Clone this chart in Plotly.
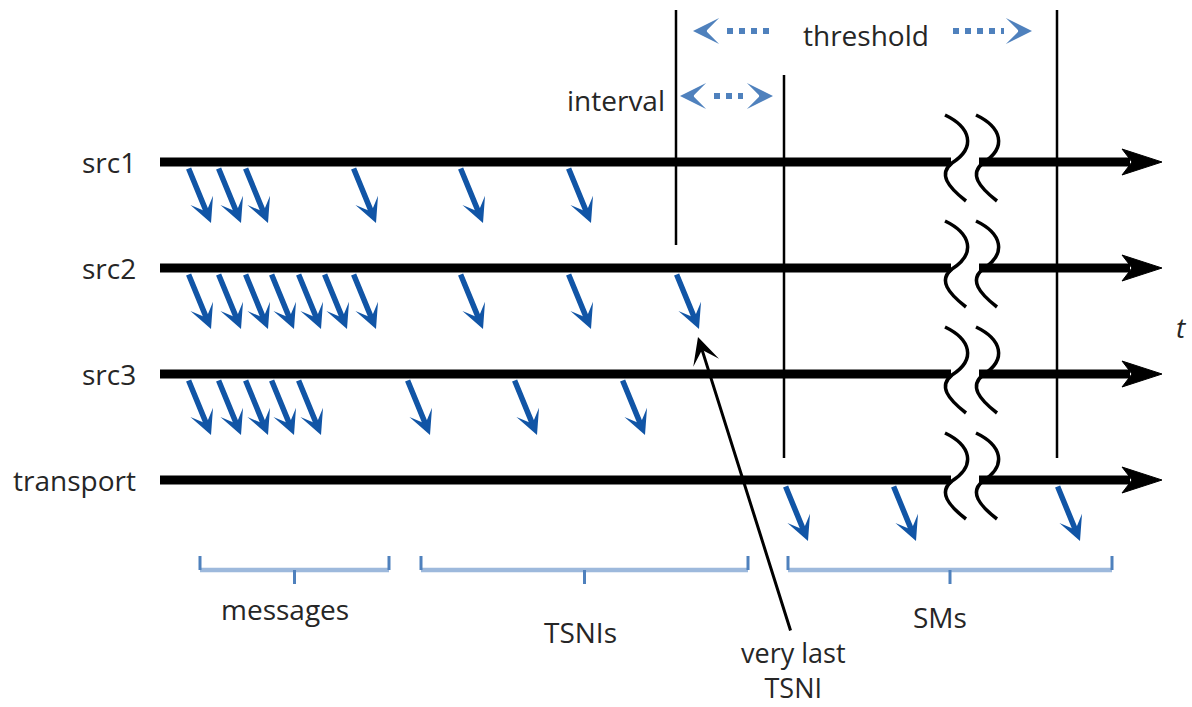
import plotly.graph_objects as go

# ---------------- data ----------------
lanes = ["src1", "src2", "src3", "transport"]
src1_times = [188, 218, 245, 353, 460, 568]
src2_times = [188, 218, 245, 271, 298, 324, 353, 460, 568, 676]
src3_times = [188, 218, 245, 271, 298, 407, 514, 622]
transport_times = [785, 893, 1057]
group_labels = ["messages", "TSNIs", "SMs"]
group_start = [200, 421, 788]
group_end = [389, 748, 1112]
threshold_bounds = [676, 1057]
interval_bounds = [676, 784]
last_tsni_time = 676

# ---------------- layout constants ----------------
W, H = 1192, 707
lane_y = [162, 268, 374, 480]
t_start, t_end = 160, 1162
break_x = 945
BLUE = "#1155A6"
MID = "#4F81BD"
LIGHT = "#9DB9DC"
TXT = "#262626"
FONT = "Open Sans"
FS = 28

fig = go.Figure()
shapes = []
annotations = []

def arrow(x, y, ax, ay, color, width, size, head=3):
    annotations.append(dict(x=x, y=y, ax=ax, ay=ay, xref="x", yref="y", axref="x", ayref="y",
                            text="", showarrow=True, arrowhead=head, arrowwidth=width,
                            arrowsize=size, arrowcolor=color, standoff=0))

def text(x, y, s, size=FS, xanchor="center", italic=False):
    annotations.append(dict(x=x, y=y, xref="x", yref="y", text=("<i>%s</i>" % s) if italic else s,
                            showarrow=False, xanchor=xanchor, yanchor="middle",
                            font=dict(family=FONT, size=size, color=TXT)))

# timelines
for name, ly in zip(lanes, lane_y):
    shapes.append(dict(type="line", x0=t_start, x1=break_x + 6, y0=ly, y1=ly, xref="x", yref="y",
                       line=dict(color="black", width=9)))
    shapes.append(dict(type="line", x0=break_x + 34, x1=t_end - 32, y0=ly, y1=ly, xref="x", yref="y",
                       line=dict(color="black", width=9)))
    hx = t_end
    shapes.append(dict(type="path", xref="x", yref="y", fillcolor="black", line=dict(color="black", width=1),
                       path=f"M {hx-40},{ly-13} L {hx},{ly} L {hx-40},{ly+13} L {hx-30},{ly} Z"))
    for off in (0, 31):
        bx = break_x + off
        shapes.append(dict(type="path", xref="x", yref="y", line=dict(color="black", width=3.5),
                           path=f"M {bx},{ly-47} C {bx+25},{ly-35} {bx+32},{ly-15} {bx+7},{ly+1} "
                                f"C {bx-7},{ly+12} {bx+3},{ly+25} {bx+21},{ly+39}"))
    text(138, ly, name, xanchor="right")

# message arrows
for times, ly in zip([src1_times, src2_times, src3_times, transport_times], lane_y):
    for t in times:
        arrow(t + 23, ly + 61, t, ly + 5, BLUE, 5.5, 0.74)

# vertical markers
shapes.append(dict(type="line", x0=threshold_bounds[0], x1=threshold_bounds[0], y0=10, y1=245,
                   xref="x", yref="y", line=dict(color="black", width=2.5)))
shapes.append(dict(type="line", x0=interval_bounds[1], x1=interval_bounds[1], y0=75, y1=458,
                   xref="x", yref="y", line=dict(color="black", width=2.5)))
shapes.append(dict(type="line", x0=threshold_bounds[1], x1=threshold_bounds[1], y0=10, y1=458,
                   xref="x", yref="y", line=dict(color="black", width=2.5)))

# threshold dotted arrow
ty = 31
tl, tr = threshold_bounds[0] + 17, threshold_bounds[1] - 25
fig.add_trace(go.Scatter(x=[tl + 34, 770], y=[ty, ty], mode="lines", hoverinfo="skip",
                         line=dict(color=MID, width=6, dash="6px,6px")))
fig.add_trace(go.Scatter(x=[953, tr - 28], y=[ty, ty], mode="lines", hoverinfo="skip",
                         line=dict(color=MID, width=6, dash="6px,6px")))
arrow(tl, ty, tl + 10, ty, MID, 3, 1.45)
arrow(tr, ty, tr - 10, ty, MID, 3, 1.45)
text(866, 35, "threshold")

# interval dotted arrow
iy = 96
il, ir = interval_bounds[0] + 4, interval_bounds[1] - 11
fig.add_trace(go.Scatter(x=[il + 34, ir - 30], y=[iy, iy], mode="lines", hoverinfo="skip",
                         line=dict(color=MID, width=6, dash="6px,6px")))
arrow(il, iy, il + 10, iy, MID, 3, 1.45)
arrow(ir, iy, ir - 10, iy, MID, 3, 1.45)
text(667, 100, "interval", xanchor="right")

# braces
by = 570
label_y = [609, 632, 617]
for lab, s, e, lyy in zip(group_labels, group_start, group_end, label_y):
    c = (s + e) / 2
    fig.add_trace(go.Scatter(x=[s, e], y=[by, by], mode="lines", hoverinfo="skip",
                             line=dict(color=LIGHT, width=4.5)))
    for xx in (s, e):
        fig.add_trace(go.Scatter(x=[xx, xx], y=[by, by - 14], mode="lines", hoverinfo="skip",
                                 line=dict(color=MID, width=3)))
    fig.add_trace(go.Scatter(x=[c, c], y=[by, by + 14], mode="lines", hoverinfo="skip",
                             line=dict(color=MID, width=3)))
    text(c - 10 if lab != "TSNIs" else c - 4, lyy, lab)

# very last TSNI pointer
arrow(last_tsni_time + 22, 337, 791, 632, "black", 3, 1.5)
text(793, 670, "very last<br>TSNI", size=27)

# time label
text(1181, 327, "t", italic=True)

fig.update_layout(
    width=W, height=H, margin=dict(l=0, r=0, t=0, b=0),
    paper_bgcolor="white", plot_bgcolor="white", showlegend=False,
    xaxis=dict(range=[0, W], visible=False, fixedrange=True),
    yaxis=dict(range=[H, 0], visible=False, fixedrange=True),
    shapes=shapes, annotations=annotations,
)
fig.write_html("out.html", config={"displayModeBar": False},
               post_script="document.body.style.margin='0';document.body.style.overflow='hidden';")
